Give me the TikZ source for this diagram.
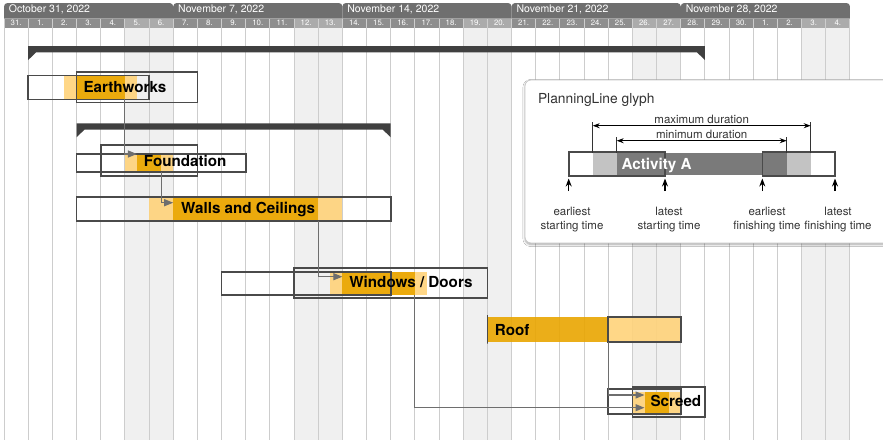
\documentclass[tikz,border=0pt]{standalone}
\usepackage{fontspec}
\setmainfont{TeX Gyre Heros}
\usetikzlibrary{arrows.meta,shadows.blur}

\definecolor{weekhdr}{HTML}{6F6F6F}
\definecolor{dayhdr}{HTML}{8E8E8E}
\definecolor{endhdr}{HTML}{ABABAB}
\definecolor{weekend}{HTML}{F0F0F0}
\definecolor{gridc}{HTML}{CDCDCD}
\definecolor{groupc}{HTML}{404040}
\definecolor{capc}{HTML}{4A4A4A}
\definecolor{minc}{HTML}{E9A600}
\definecolor{maxc}{HTML}{FFD37A}
\definecolor{connc}{HTML}{6E6E6E}
\definecolor{glyphdark}{HTML}{7A7A7A}
\definecolor{glyphlight}{HTML}{C3C3C3}
\definecolor{panelline}{HTML}{C8C8C8}
\definecolor{textc}{HTML}{333333}

% one day column
\def\cw{24.17}
\def\xo{4}
\newcommand\colx[1]{\xo+\cw*(#1)}

% rectangle node spanning day columns #3..#4 and rows #5..#6
\newcommand\ganttbox[6]{%
  \node[#2, minimum width={\cw*((#4)-(#3))*1pt}, minimum height={((#6)-(#5))*1pt}]
    (#1) at ({\xo+\cw*((#3)+(#4))/2},{((#5)+(#6))/2}) {};}
% rectangle node with absolute x positions
\newcommand\absbox[6]{%
  \node[#2, minimum width={((#4)-(#3))*1pt}, minimum height={((#6)-(#5))*1pt}]
    (#1) at ({((#3)+(#4))/2},{((#5)+(#6))/2}) {};}
% summary bar with downward end tips
\newcommand\groupbar[3]{%
  \fill[groupc] ({\colx{#1}},#3) -- ({\colx{#2}},#3) -- ({\colx{#2}},{#3+14})
    -- ({\colx{#2}-8},{#3+6.3}) -- ({\colx{#1}+8},{#3+6.3}) -- ({\colx{#1}},{#3+14}) -- cycle;}

\begin{document}
\begin{tikzpicture}[x=1pt,y=-1pt,
  plain/.style={inner sep=0pt, outer sep=0pt},
  maxbar/.style={plain, fill=maxc, fill opacity=0.9},
  minbar/.style={plain, fill=minc, fill opacity=0.9},
  capbox/.style={plain, draw=capc, line width=1.7pt},
  gcap/.style={plain, draw=capc, line width=1.6pt},
  gmax/.style={plain, fill=glyphlight},
  gmin/.style={plain, fill=glyphdark},
  tasklabel/.style={plain, anchor=base west, font=\bfseries\fontsize{15.2}{18}\selectfont},
  weeklabel/.style={plain, anchor=base west, text=white, font=\fontsize{10.5}{12}\selectfont},
  daylabel/.style={plain, anchor=base, text=white, font=\fontsize{7.8}{9}\selectfont},
  conn/.style={draw=connc, line width=1.2pt, -{Triangle[length=9pt,width=7pt]}},
  glabel/.style={plain, anchor=base, text=textc, font=\fontsize{11.5}{14}\selectfont},
  dimline/.style={draw=black, line width=0.9pt, {Stealth[length=7pt,width=5pt]}-{Stealth[length=7pt,width=5pt]}},
  tick/.style={draw=textc, line width=0.9pt},
  pointer/.style={draw=black, line width=1.1pt, -{Stealth[length=8pt,width=6pt]}}]

\useasboundingbox (0,0) rectangle (883,440);
\fill[white] (0,0) rectangle (883,440);

% weekend columns
\foreach \c in {5,6,12,13,19,20,26,27,33,34}
  \fill[weekend] ({\colx{\c}},27.5) rectangle ({\colx{\c+1}},440);

% week header
\foreach \w in {0,...,4}
  \fill[weekhdr] ({\colx{7*\w}},18.6) [rounded corners=3.5pt] -- ({\colx{7*\w}},3)
    -- ({\colx{7*\w+7}},3) [sharp corners] -- ({\colx{7*\w+7}},18.6) -- cycle;
\node[weeklabel] (wk0) at ({\colx{0}+5},12.5) {October 31, 2022};
\node[weeklabel] (wk1) at ({\colx{7}+5},12.5) {November 7, 2022};
\node[weeklabel] (wk2) at ({\colx{14}+5},12.5) {November 14, 2022};
\node[weeklabel] (wk3) at ({\colx{21}+5},12.5) {November 21, 2022};
\node[weeklabel] (wk4) at ({\colx{28}+5},12.5) {November 28, 2022};

% day header
\foreach \c in {0,...,34} {
  \pgfmathtruncatemacro\dnum{\c==0 ? 31 : (\c<=30 ? \c : \c-30)}
  \pgfmathtruncatemacro\wkd{mod(\c,7)}
  \ifnum\wkd>4 \def\hc{endhdr}\else\def\hc{dayhdr}\fi
  \fill[\hc] ({\colx{\c}},18.5) rectangle ({\colx{\c+1}},27.5);
  \node[daylabel] (day\c) at ({\colx{\c+0.5}},25.3) {\dnum.};
}

% day grid
\foreach \c in {0,...,35}
  \draw[gridc, line width=1pt] ({\colx{\c}},18.5) -- ({\colx{\c}},440);

% summary bars
\groupbar{1}{29}{46}
\groupbar{3}{16}{123.3}

% Earthworks
\ganttbox{ew-max}{maxbar}{2.5}{5.5}{75}{99}
\ganttbox{ew-min}{minbar}{3}{5}{75}{99}
\ganttbox{ew-start}{capbox}{1}{6}{75.5}{99.5}
\ganttbox{ew-end}{capbox}{3}{8}{72}{102.5}
\node[tasklabel] (ew-lbl) at ({\colx{3}+7},92) {Earthworks};

% Foundation
\ganttbox{fd-max}{maxbar}{5}{7}{154}{172}
\ganttbox{fd-min}{minbar}{5.5}{6.5}{154}{172}
\ganttbox{fd-start}{capbox}{3}{10}{154}{172}
\ganttbox{fd-end}{capbox}{4}{8}{145}{176}
\node[tasklabel] (fd-lbl) at ({\colx{5.5}+7},166.7) {Foundation};

% Walls and Ceilings
\ganttbox{wc-max}{maxbar}{6}{14}{197}{220.7}
\ganttbox{wc-min}{minbar}{7}{13}{197}{220.7}
\ganttbox{wc-start}{capbox}{3}{16}{197}{220.7}
\ganttbox{wc-end}{capbox}{3}{16}{197}{220.7}
\node[tasklabel] (wc-lbl) at ({\colx{7}+8},213) {Walls and Ceilings};

% Windows / Doors
\ganttbox{wd-max}{maxbar}{13.5}{17.5}{271.7}{295}
\ganttbox{wd-min}{minbar}{14}{17}{271.7}{295}
\ganttbox{wd-start}{capbox}{9}{16}{271.7}{295}
\ganttbox{wd-end}{capbox}{12}{20}{268.3}{298.3}
\node[tasklabel] (wd-lbl) at ({\colx{14}+7},287.5) {Windows / Doors};

% Roof
\ganttbox{rf-min}{minbar}{20}{25}{317.3}{342.3}
\ganttbox{rf-max}{maxbar}{25}{28}{317.3}{342.3}
\ganttbox{rf-start}{capbox}{20}{20}{315}{343.5}
\ganttbox{rf-end}{capbox}{25}{28}{317.3}{342.3}
\node[tasklabel] (rf-lbl) at ({\colx{20}+7.5},335) {Roof};

% Screed
\ganttbox{sc-max}{maxbar}{26}{28}{391.7}{414}
\ganttbox{sc-min}{minbar}{26.5}{27.5}{391.7}{414}
\ganttbox{sc-start}{capbox}{25}{28}{389.3}{414}
\ganttbox{sc-end}{capbox}{26}{29}{386.7}{416.7}
\node[tasklabel] (sc-lbl) at ({\colx{26.5}+6},406.7) {Screed};

% dependencies
\coordinate (fd-in) at ({\colx{5.5}},154);
\coordinate (wc-in) at ({\colx{7}},202.7);
\coordinate (wd-in) at ({\colx{14}},276.7);
\coordinate (sc-in1) at ({\colx{26.5}},395);
\coordinate (sc-in2) at ({\colx{26.5}},407.7);
\draw[conn] (ew-min.south east) |- (fd-in);
\draw[conn] (fd-min.south east) |- (wc-in);
\draw[conn] (wc-min.south east) |- (wd-in);
\draw[conn] (rf-min.south east) |- (sc-in1);
\draw[conn] (wd-min.south east) |- (sc-in2);

% legend panel
\path[fill=white, draw=panelline, line width=0.8pt, rounded corners=6pt,
  blur shadow={shadow xshift=0pt, shadow yshift=-1.5pt, shadow blur steps=6, shadow opacity=35}]
  (525,80) rectangle (905,243);
\node[plain, anchor=base west, text=textc, font=\fontsize{13.8}{16}\selectfont] (lg-title) at (538,103.3) {PlanningLine glyph};

\absbox{g-max1}{gmax}{592.7}{616.7}{153}{175}
\absbox{g-min}{gmin}{616.7}{786.7}{153}{175}
\absbox{g-max2}{gmax}{786.7}{810.7}{153}{175}
\absbox{g-start}{gcap}{568.7}{665}{151.7}{176}
\absbox{g-end}{gcap}{762.3}{835}{151.7}{176}
\node[plain, anchor=base west, text=white, font=\bfseries\fontsize{15.2}{18}\selectfont] (g-lbl) at (621.7,169.3) {Activity A};

% duration dimensions
\coordinate (mx-l) at (592.7,125.7);
\coordinate (mx-r) at (810.7,125.7);
\coordinate (mn-l) at (616.7,140.7);
\coordinate (mn-r) at (786.7,140.7);
\draw[tick] (g-max1.north west) -- ++(0,-31);
\draw[tick] (g-max2.north east) -- ++(0,-31);
\draw[tick] (g-min.north west) -- ++(0,-16);
\draw[tick] (g-min.north east) -- ++(0,-16);
\draw[dimline] (mx-l) -- (mx-r);
\draw[dimline] (mn-l) -- (mn-r);
\node[glabel] (mx-lbl) at (701.7,123.5) {maximum duration};
\node[glabel] (mn-lbl) at (701.7,138.6) {minimum duration};

% time points
\coordinate (p-es) at (568.7,191);
\coordinate (p-ls) at (665,191);
\coordinate (p-ef) at (762.3,191);
\coordinate (p-lf) at (835,191);
\coordinate (t-es) at (568.7,178.5);
\coordinate (t-ls) at (665,178.5);
\coordinate (t-ef) at (762.3,178.5);
\coordinate (t-lf) at (835,178.5);
\draw[pointer] (p-es) -- (t-es);
\draw[pointer] (p-ls) -- (t-ls);
\draw[pointer] (p-ef) -- (t-ef);
\draw[pointer] (p-lf) -- (t-lf);
\node[glabel] (l-es-a) at (572,215) {earliest};
\node[glabel] (l-es-b) at (572,229.5) {starting time};
\node[glabel] (l-ls-a) at (669,215) {latest};
\node[glabel] (l-ls-b) at (669,229.5) {starting time};
\node[glabel] (l-ef-a) at (767,215) {earliest};
\node[glabel] (l-ef-b) at (767,229.5) {finishing time};
\node[glabel] (l-lf-a) at (838,215) {latest};
\node[glabel] (l-lf-b) at (838,229.5) {finishing time};
\end{tikzpicture}
\end{document}
